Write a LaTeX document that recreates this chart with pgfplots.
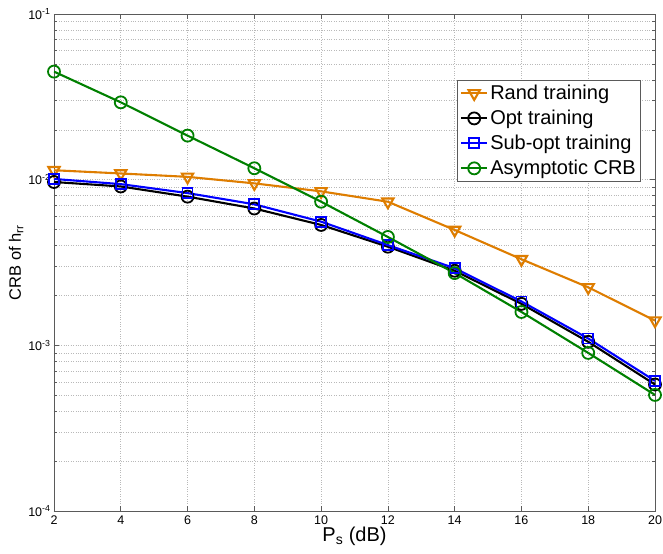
\documentclass[border=0pt]{standalone}
\usepackage{pgfplots}
\pgfplotsset{compat=1.18}
\usepackage{fontspec}
\setmainfont{Liberation Sans}

\definecolor{randc}{RGB}{222,125,0}
\definecolor{optc}{RGB}{0,0,0}
\definecolor{subc}{RGB}{0,0,255}
\definecolor{asyc}{RGB}{0,128,0}
\definecolor{axc}{RGB}{90,90,90}

\begin{document}
\begin{tikzpicture}
\useasboundingbox (-54bp,-43bp) rectangle (609bp,511bp);
\begin{axis}[
  scale only axis,
  width=601bp, height=497bp,
  ymode=log,
  xmin=2, xmax=20, ymin=1e-4, ymax=1e-1,
  xtick={2,4,...,20},
  ytick={1e-4,1e-3,1e-2,1e-1},
  yticklabels={10\textsuperscript{-4},10\textsuperscript{-3},10\textsuperscript{-2},10\textsuperscript{-1}},
  /pgf/number format/assume math mode=true,
  tick label style={font=\fontsize{12.5bp}{14bp}\selectfont},
  xticklabel style={yshift=-1bp},
  tick align=inside,
  tick pos=both,
  major tick length=5bp,
  minor tick length=3bp,
  axis line style={axc, line width=0.7bp},
  tick style={axc, line width=0.6bp},
  grid=both,
  major grid style={gray!55, dotted, line width=0.6bp},
  minor grid style={gray!55, dotted, line width=0.6bp},
  minor x tick num=0,
  xlabel={P\textsubscript{s} (dB)},
  ylabel={CRB of h\textsubscript{rr}},
  xlabel style={font=\fontsize{20bp}{22bp}\selectfont, yshift=4bp},
  ylabel style={font=\fontsize{16.5bp}{18bp}\selectfont, yshift=-2bp},
  every axis plot/.append style={line width=2.1bp},
  mark options={solid, line width=1.8bp, fill=none},
  legend cell align=left,
  legend style={at={(rel axis cs:0.977,0.867)}, anchor=north east,
    font=\fontsize{20bp}{22bp}\selectfont, draw=axc, fill=white,
    line width=0.7bp, inner xsep=3bp, inner ysep=3bp,
    row sep=5bp},
  legend image code/.code={
    \draw[mark repeat=2, mark phase=2] plot coordinates {(0bp,0bp) (13bp,0bp) (26bp,0bp)};
  },
]
\addplot[color=randc, mark=triangle, mark size=6.5bp, mark options={rotate=180}]
  coordinates {(2,0.0114) (4,0.0109) (6,0.0104) (8,0.0095) (10,0.0085)
               (12,0.00736) (14,0.00497) (16,0.00331) (18,0.00224) (20,0.00141)};
\addlegendentry{Rand training}
\addplot[color=optc, mark=o, mark size=6bp]
  coordinates {(2,0.00968) (4,0.0091) (6,0.0079) (8,0.0067) (10,0.00533)
               (12,0.00394) (14,0.00282) (16,0.00178) (18,0.00105) (20,0.00058)};
\addlegendentry{Opt training}
\addplot[color=subc, mark=square, mark size=5bp]
  coordinates {(2,0.0101) (4,0.0094) (6,0.0083) (8,0.0071) (10,0.00558)
               (12,0.00403) (14,0.00292) (16,0.00184) (18,0.00110) (20,0.00061)};
\addlegendentry{Sub-opt training}
\addplot[color=asyc, mark=o, mark size=6bp]
  coordinates {(2,0.0449) (4,0.0293) (6,0.01845) (8,0.01172) (10,0.00736)
               (12,0.00451) (14,0.00273) (16,0.00159) (18,0.00090) (20,0.000502)};
\addlegendentry{Asymptotic CRB}
\end{axis}
\end{tikzpicture}
\end{document}
